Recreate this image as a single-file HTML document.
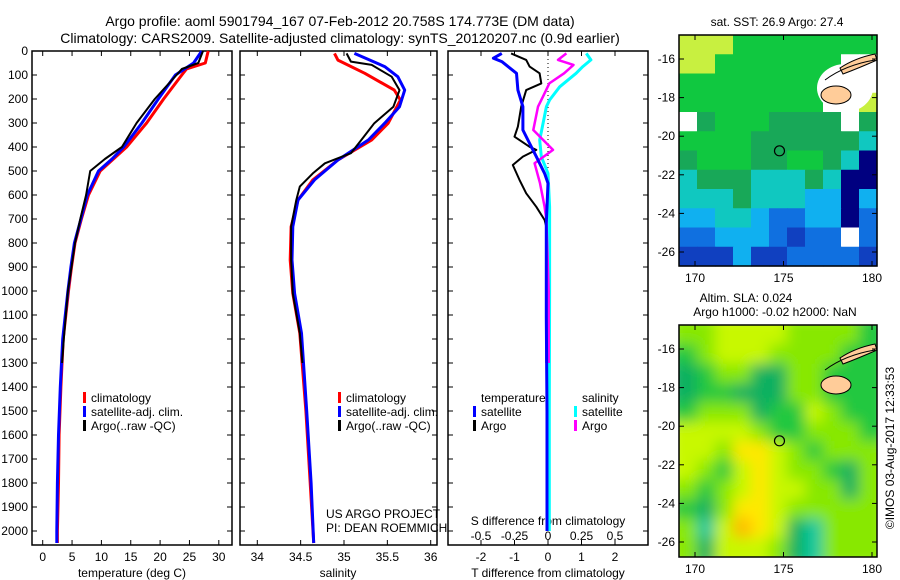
<!DOCTYPE html>
<html><head><meta charset="utf-8"><style>
body{margin:0;background:#fff;width:900px;height:580px;overflow:hidden}
svg{display:block;font-family:"Liberation Sans",sans-serif}
</style></head><body>
<svg id="c" width="900" height="580" viewBox="0 0 900 580">
<defs>
<filter id="blur" x="-5%" y="-5%" width="110%" height="110%"><feGaussianBlur stdDeviation="7"/></filter>
<clipPath id="clipSla"><rect x="679" y="325" width="198" height="232"/></clipPath>
</defs>
</svg>
<script>
// ---- data ----
const tDepthClim=[0,50,75,100,200,300,400,500,600,700,800,900,1000,1200,1400,1600,1800,2000,2050];
const tClim=[28.2,27.7,24.5,23.7,20.6,17.7,14.3,9.8,7.8,6.6,5.5,4.9,4.4,3.5,3.1,2.8,2.7,2.5,2.5];
const tDepthSat=[0,50,100,200,300,400,450,500,600,700,800,900,1000,1200,1400,1600,1800,2000,2050];
const tSat=[27.1,25.7,22.6,19.7,16.9,13.8,11.8,9.5,7.6,6.5,5.4,4.8,4.3,3.4,3.0,2.7,2.5,2.4,2.4];
const tDepthArgo=[0,50,75,100,200,300,400,450,500,600,650,700,800,900,1000,1200,1300];
const tArgo=[27.3,26.5,23.7,22.8,19.1,16.0,13.5,10.6,8.1,7.4,6.9,6.4,5.5,4.9,4.3,3.6,3.3];
const sDepthClim=[10,38,93,163,204,301,371,454,537,621,732,871,1010,1176,1500,1800,2050];
const sClim=[34.89,34.93,35.24,35.58,35.65,35.51,35.32,34.93,34.64,34.47,34.39,34.38,34.41,34.49,34.56,34.61,34.65];
const sDepthSat=[10,65,107,163,232,301,371,454,537,621,732,871,1010,1176,1500,1800,2050];
const sSat=[35.12,35.47,35.62,35.70,35.64,35.47,35.28,34.93,34.66,34.47,34.41,34.40,34.43,34.51,34.57,34.62,34.65];
const sDepthArgo=[10,44,58,107,163,232,301,371,426,468,510,565,621,732,871,1010,1176,1300];
const sArgo=[35.03,35.08,35.32,35.55,35.64,35.57,35.35,35.2,35.08,34.78,34.64,34.49,34.45,34.39,34.39,34.41,34.49,34.52];
const dDepthTSat=[10,30,44,93,163,232,329,371,440,510,551,718,1107,1500,2000];
const dTSat=[-1.38,-1.63,-1.38,-0.94,-0.9,-0.75,-0.75,-0.6,-0.35,-0.1,0,-0.05,-0.05,-0.03,-0.03];
const dDepthTArgo=[10,37,65,93,135,163,232,315,357,399,412,440,475,537,593,649,704,732,1107,1300];
const dTArgo=[-1.1,-0.65,-0.55,-0.25,-0.2,-0.65,-0.8,-0.9,-1.0,-0.55,-0.35,-0.75,-1.05,-0.85,-0.65,-0.35,-0.1,-0.05,-0.05,-0.05];
const dDepthSArgo=[10,37,58,93,135,190,232,329,357,412,468,551,649,704,1000,1300];
const dSArgo=[0.137,0.075,0.19,0.12,0.01,-0.037,-0.075,-0.11,-0.06,0.037,-0.1,-0.06,-0.025,-0.012,0.005,0.005];
const dDepthSSat=[10,37,65,93,149,204,232,371,440,510,649,1000,1500,2000];
const dSSat=[0.286,0.32,0.26,0.21,0.087,0.012,-0.012,-0.062,-0.05,0,0.012,0.012,0.01,0.01];
const depthTicks=[0,100,200,300,400,500,600,700,800,900,1000,1100,1200,1300,1400,1500,1600,1700,1800,1900,2000];
const tempTicks=[0,5,10,15,20,25,30];
const salTicks=[34,34.5,35,35.5,36];
const tDiffTicks=[-2,-1,0,1,2];
const sDiffTicks=[-0.5,-0.25,0,0.25,0.5];
const sDiffTickLabels=['-0.5','-0.25','0','0.25','0.5'];
const lonTicks=[170,175,180];
const latTicks=[-16,-18,-20,-22,-24,-26];
const sstGrid=[
[0,0,0,1,1,1,1,1,1,1,1],
[0,0,1,1,1,1,1,1,1,-1,-1],
[1,1,1,1,1,1,1,1,-1,-1,-1],
[1,1,1,1,1,1,1,1,-1,-1,0],
[-1,2,1,1,1,2,2,2,2,-1,2],
[1,1,1,1,2,2,2,2,2,2,3],
[2,1,1,1,2,2,1,1,2,3,7],
[3,2,2,2,3,3,3,2,3,7,7],
[3,3,3,2,3,3,3,4,4,7,4],
[4,4,3,3,4,5,5,4,4,7,5],
[5,5,4,4,4,5,6,5,5,-1,5],
[6,6,6,4,6,6,5,5,5,5,6]];
const slaGrid=[
[1,1,2,2,2,2,1,1,1,1,0],
[0,1,2,2,2,1,1,1,1,0,0],
[5,0,1,1,5,5,1,1,0,0,0],
[5,0,0,5,5,5,1,1,0,0,0],
[0,1,1,1,5,0,0,2,1,0,0],
[2,2,2,2,1,0,0,1,1,1,0],
[2,2,1,3,3,2,1,0,1,1,1],
[2,1,0,2,3,2,1,1,0,5,1],
[1,0,1,2,3,2,2,1,1,5,1],
[0,5,1,3,3,2,1,1,1,1,1],
[1,6,2,4,3,2,5,6,1,1,1],
[1,5,2,2,2,1,5,6,1,1,1]];
const argoLon=174.773, argoLat=-20.758;

// ---- drawing ----
const NS='http://www.w3.org/2000/svg';
const svg=document.getElementById('c');
function el(tag,attrs,parent){const e=document.createElementNS(NS,tag);for(const k in attrs)e.setAttribute(k,attrs[k]);(parent||svg).appendChild(e);return e;}
function txt(x,y,s,anchor,size,parent,fill){const t=el('text',{x:x,y:y,'text-anchor':anchor||'middle','font-size':size||12,fill:fill||'#000'},parent);t.textContent=s;return t;}
const Y=d=>51+d*0.24;
const pTop=51,pBot=545;
function frame(x0,x1,name){
  const r=el('rect',{x:x0,y:pTop,width:x1-x0,height:pBot-pTop,fill:'none',stroke:'#000','stroke-width':1.5});
  
  
  depthTicks.forEach(d=>{el('line',{x1:x0,x2:x0+5,y1:Y(d),y2:Y(d),stroke:'#000'});el('line',{x1:x1,x2:x1-5,y1:Y(d),y2:Y(d),stroke:'#000'});});
}
function line(xs,ds,X,color,w,name){
  const pts=xs.map((v,i)=>X(v).toFixed(1)+','+Y(ds[i]).toFixed(1)).join(' ');
  const p=el('polyline',{points:pts,fill:'none',stroke:color,'stroke-width':w,'stroke-linejoin':'round'});
  
  
}
let t=txt(340,26,'Argo profile: aoml 5901794_167 07-Feb-2012 20.758S 174.773E (DM data)','middle',14);


t=txt(340,43,'Climatology: CARS2009. Satellite-adjusted climatology: synTS_20120207.nc (0.9d earlier)','middle',14);



// panel 1 temperature
const XT=v=>42.7+v*5.87;
frame(32,232,'temperature-panel');
depthTicks.forEach(d=>{const l=txt(28,Y(d)+4,String(d),'end',12);});
tempTicks.forEach(v=>{el('line',{x1:XT(v),x2:XT(v),y1:pTop,y2:pTop+5,stroke:'#000'});el('line',{x1:XT(v),x2:XT(v),y1:pBot,y2:pBot-5,stroke:'#000'});const l=txt(XT(v),561,String(v));});
t=txt(132,577,'temperature (deg C)');
line(tClim,tDepthClim,XT,'#f00',3,'temp-climatology-line');
line(tSat,tDepthSat,XT,'#00f',3,'temp-satellite-line');
line(tArgo,tDepthArgo,XT,'#000',2,'temp-argo-line');
function legend(x,y,items,name){
  const g=el('g',{});
  items.forEach((it,i)=>{el('rect',{x:x,y:y+i*14-10,width:3,height:11,fill:it[1]},g);txt(x+8,y+i*14,it[0],'start',12,g);});
}
legend(83,402,[['climatology','#f00'],['satellite-adj. clim.','#00f'],['Argo(..raw -QC)','#000']],'temp-legend');

// panel 2 salinity
const XS=v=>257.3+(v-34)*86.7;
frame(240,437,'salinity-panel');
salTicks.forEach(v=>{el('line',{x1:XS(v),x2:XS(v),y1:pTop,y2:pTop+5,stroke:'#000'});el('line',{x1:XS(v),x2:XS(v),y1:pBot,y2:pBot-5,stroke:'#000'});const l=txt(XS(v),561,String(v));});
t=txt(338,577,'salinity');
line(sClim,sDepthClim,XS,'#f00',3,'sal-climatology-line');
line(sSat,sDepthSat,XS,'#00f',3,'sal-satellite-line');
line(sArgo,sDepthArgo,XS,'#000',2,'sal-argo-line');
legend(338,402,[['climatology','#f00'],['satellite-adj. clim.','#00f'],['Argo(..raw -QC)','#000']],'sal-legend');
t=txt(326,518,'US ARGO PROJECT','start',12);
t=txt(326,532,'PI: DEAN ROEMMICH','start',12);

// panel 3 differences
const XD=v=>548+v*33.5;
const XDS=v=>548+v*134;
frame(448,648,'difference-panel');
tDiffTicks.forEach(v=>{el('line',{x1:XD(v),x2:XD(v),y1:pTop,y2:pTop+5,stroke:'#000'});el('line',{x1:XD(v),x2:XD(v),y1:pBot,y2:pBot-5,stroke:'#000'});const l=txt(XD(v),561,String(v));});
sDiffTicks.forEach((v,i)=>{const l=txt(XDS(v),540,sDiffTickLabels[i]);});
t=txt(548,525,'S difference from climatology');
t=txt(548,577,'T difference from climatology');
el('line',{x1:548,x2:548,y1:pTop,y2:Y(500),stroke:'#000','stroke-dasharray':'1,3'});
line(dSSat,dDepthSSat,XDS,'#0ff',3,'sdiff-satellite-line');
line(dSArgo,dDepthSArgo,XDS,'#f0f',2.5,'sdiff-argo-line');
line(dTArgo,dDepthTArgo,XD,'#000',2,'tdiff-argo-line');
line(dTSat,dDepthTSat,XD,'#00f',3,'tdiff-satellite-line');
legend(473,416,[['satellite','#00f'],['Argo','#000']],'tdiff-legend');
t=txt(481,402,'temperature','start',12);
legend(574,416,[['satellite','#0ff'],['Argo','#f0f']],'sdiff-legend');
t=txt(582,402,'salinity','start',12);

// maps
const mx0=679,mx1=877;
const MX=lon=>695+(lon-170)*17.7;
function map(y0,y1,latY16,grid,pal,name,white,smooth){
  const MY=lat=>latY16+(-16-lat)*19.3;
  const g=el('g',{});
  const cg=el('g',{},g);
  if(smooth){cg.setAttribute('clip-path','url(#clipSla)');}
  const inner=el('g',smooth?{filter:'url(#blur)'}:{},cg);
  const rows=grid.length,cols=grid[0].length;
  const cw=(mx1-mx0)/cols,ch=(y1-y0)/rows;
  grid.forEach((row,r)=>row.forEach((v,c)=>{
    const ex=smooth?10:0;
    const x=mx0+c*cw-(c==0?ex:0), y=y0+r*ch-(r==0?ex:0);
    const w=cw+0.6+(c==0||c==cols-1?ex:0), h=ch+0.6+(r==0||r==rows-1?ex:0);
    const cell=el('rect',{x:x,y:y,width:w,height:h,fill:v<0?'#fff':pal[v]},inner);
    
    
  }));
  if(white){el('ellipse',{cx:845,cy:88,rx:28,ry:24,fill:'#fff'},g);}
  el('path',{d:`M840,${y0+33} q15,-10 35,-14 l2,6 q-18,8 -34,14 z`,fill:'#fc9',stroke:'#000','stroke-width':1},g);
  el('ellipse',{cx:836,cy:y0+60,rx:15,ry:9,fill:'#fc9',stroke:'#000','stroke-width':1},g);
  el('path',{d:`M825,${y0+45} q20,-15 50,-20`,fill:'none',stroke:'#000','stroke-width':1},g);
  el('circle',{cx:MX(argoLon),cy:MY(argoLat),r:5,fill:'none',stroke:'#000','stroke-width':1.2},g);
  el('rect',{x:mx0,y:y0,width:mx1-mx0,height:y1-y0,fill:'none',stroke:'#000','stroke-width':1.5},g);
  lonTicks.forEach(v=>{el('line',{x1:MX(v),x2:MX(v),y1:y0,y2:y0+5,stroke:'#000'},g);el('line',{x1:MX(v),x2:MX(v),y1:y1,y2:y1-5,stroke:'#000'},g);txt(MX(v),y1+16,String(v),'middle',12,g);});
  latTicks.forEach(v=>{el('line',{x1:mx0,x2:mx0+5,y1:MY(v),y2:MY(v),stroke:'#000'},g);el('line',{x1:mx1,x2:mx1-5,y1:MY(v),y2:MY(v),stroke:'#000'},g);txt(675,MY(v)+4,String(v),'end',12,g);});
}
map(35,266,59,sstGrid,['#c8f040','#10c840','#18a858','#10c8c0','#10b0f0','#1070e0','#1040c0','#000080'],'sst-map',true,false);
map(325,557,349,slaGrid,['#20c840','#88e800','#c8f800','#ffe800','#ffb800','#10b060','#10c8a0'],'sla-map',false,true);
t=txt(777,26,'sat. SST: 26.9 Argo: 27.4');
t=txt(746,302,'Altim. SLA: 0.024');
t=txt(775,316,'Argo h1000: -0.02 h2000: NaN');
t=txt(0,0,'©IMOS 03-Aug-2017 12:33:53');
t.setAttribute('transform','translate(894,448) rotate(-90)');


</script>
</body></html>
